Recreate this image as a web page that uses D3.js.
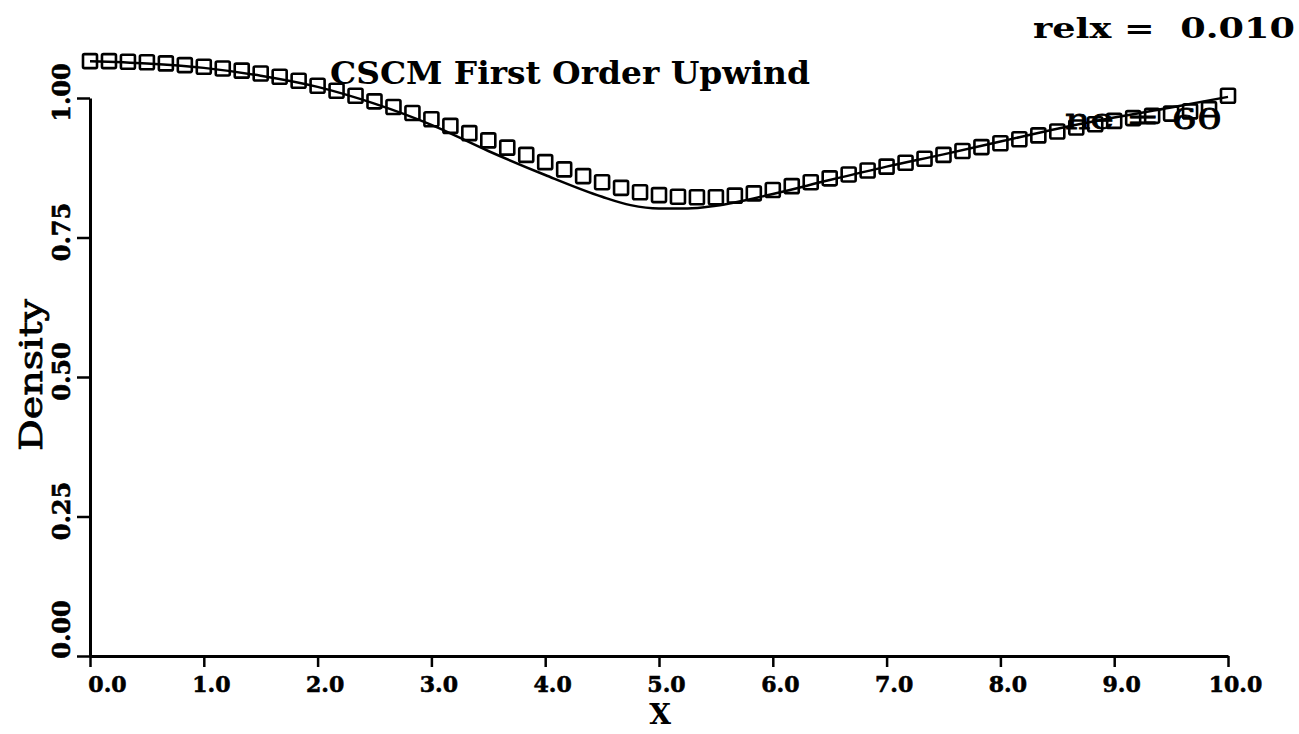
<!DOCTYPE html>
<html>
<head>
<meta charset="utf-8">
<script src="https://cdn.jsdelivr.net/npm/d3@7"></script>
<style>
  body { margin: 0; background: #fff; }
  text { font-family: "DejaVu Serif", serif; fill: #000; }
</style>
</head>
<body>
<svg id="viz"></svg>
<script>
// density along x, squares = CSCM first order upwind (ne = 60), line = reference solution
let squareX = d3.range(61).map(i => i * 10 / 60);
let squareY = [
  1.066, 1.066, 1.065, 1.064, 1.062, 1.059, 1.056, 1.053, 1.049, 1.044,
  1.038, 1.031, 1.022, 1.013, 1.004, 0.994, 0.984, 0.973, 0.962, 0.950,
  0.937, 0.924, 0.911, 0.898, 0.885, 0.872, 0.860, 0.849, 0.839, 0.831,
  0.826, 0.823, 0.822, 0.822, 0.825, 0.829, 0.835, 0.842, 0.849, 0.856,
  0.863, 0.870, 0.877, 0.884, 0.891, 0.898, 0.905, 0.912, 0.919, 0.926,
  0.933, 0.940, 0.947, 0.953, 0.959, 0.964, 0.968, 0.972, 0.976, 0.980,
  1.004
];
let lineX = [0, 0.5, 1, 1.5, 2, 2.5, 3, 3.5, 4, 4.5, 4.75, 5, 5.25, 5.5, 6, 6.5, 7, 7.5, 8, 8.5, 9, 9.5, 10];
let lineY = [1.066, 1.062, 1.054, 1.040, 1.020, 0.990, 0.952, 0.905, 0.862, 0.823, 0.808, 0.802, 0.802, 0.807, 0.828, 0.853, 0.877, 0.899, 0.922, 0.945, 0.965, 0.983, 1.002];
let xTicks = [0, 1, 2, 3, 4, 5, 6, 7, 8, 9, 10];
let yTicks = [0, 0.25, 0.5, 0.75, 1.0];

let svg = d3.select("#viz")
  .attr("width", 1299)
  .attr("height", 734);

let x = d3.scaleLinear().domain([0, 10]).range([90, 1228]);
let y = d3.scaleLinear().domain([0, 1]).range([656, 98]);

//x axis
let xAxis = svg.append("g")
  .attr("transform", "translate(0," + y(0) + ")")
  .call(d3.axisBottom(x).tickValues(xTicks).tickSize(11).tickSizeOuter(0).tickFormat(d3.format(".1f")));
xAxis.select(".domain").attr("stroke-width", 3);
xAxis.selectAll(".tick line").attr("stroke-width", 2.5);
xAxis.selectAll(".tick text")
  .attr("font-family", "DejaVu Serif")
  .attr("font-weight", "bold")
  .attr("font-size", 22)
  .attr("stroke", "#000")
  .attr("stroke-width", 0.6)
  .attr("dx", d => d === 0 ? 17 : 7)
  .attr("y", 20)
  .attr("dy", "0.71em");

//y axis
let yAxis = svg.append("g")
  .attr("transform", "translate(" + x(0) + ",0)")
  .call(d3.axisLeft(y).tickValues(yTicks).tickSize(13).tickSizeOuter(0).tickFormat(d3.format(".2f")));
yAxis.select(".domain").attr("stroke-width", 3);
yAxis.selectAll(".tick line").attr("stroke-width", 2.5);
yAxis.selectAll(".tick text")
  .attr("font-family", "DejaVu Serif")
  .attr("font-weight", "bold")
  .attr("font-size", 24)
  .attr("stroke", "#000")
  .attr("stroke-width", 0.6)
  .attr("text-anchor", "middle")
  .attr("x", null)
  .attr("dy", null)
  .attr("transform", d => "translate(-20," + (d === 0 ? -27 : -6) + ")rotate(-90)");

//reference line
let line = d3.line()
  .x((d, i) => x(lineX[i]))
  .y(d => y(d))
  .curve(d3.curveMonotoneX);
svg.append("path")
  .datum(lineY)
  .attr("d", line)
  .attr("fill", "none")
  .attr("stroke", "#000")
  .attr("stroke-width", 2.5);

//squares
let sq = 14;
svg.selectAll("rect.pt")
  .data(squareY)
  .enter()
  .append("rect")
  .classed("pt", true)
  .attr("x", (d, i) => x(squareX[i]) - sq / 2)
  .attr("y", d => y(d) - sq / 2)
  .attr("width", sq)
  .attr("height", sq)
  .attr("rx", 1.5)
  .attr("fill", "none")
  .attr("stroke", "#000")
  .attr("stroke-width", 2.6);

//labels
svg.append("text")
  .attr("x", 330).attr("y", 84)
  .attr("font-size", 31)
  .attr("font-weight", "bold")
  .attr("textLength", 480)
  .attr("lengthAdjust", "spacingAndGlyphs")
  .text("CSCM First Order Upwind");

svg.append("text")
  .attr("x", 1033).attr("y", 38)
  .attr("font-size", 27)
  .attr("font-weight", "bold")
  .attr("textLength", 262)
  .attr("lengthAdjust", "spacingAndGlyphs")
  .attr("xml:space", "preserve")
  .text("relx =  0.010");

svg.append("text")
  .attr("x", 1065).attr("y", 129)
  .attr("font-size", 28)
  .attr("stroke", "#000")
  .attr("stroke-width", 0.8)
  .attr("textLength", 157)
  .attr("lengthAdjust", "spacingAndGlyphs")
  .text("ne = 60");

svg.append("text")
  .attr("transform", "translate(42,375)rotate(-90)")
  .attr("text-anchor", "middle")
  .attr("font-size", 32)
  .attr("stroke", "#000")
  .attr("stroke-width", 0.8)
  .attr("textLength", 152)
  .attr("lengthAdjust", "spacingAndGlyphs")
  .text("Density");

svg.append("text")
  .attr("x", 660).attr("y", 724)
  .attr("text-anchor", "middle")
  .attr("font-size", 28)
  .attr("font-weight", "bold")
  .text("X");
</script>
</body>
</html>
